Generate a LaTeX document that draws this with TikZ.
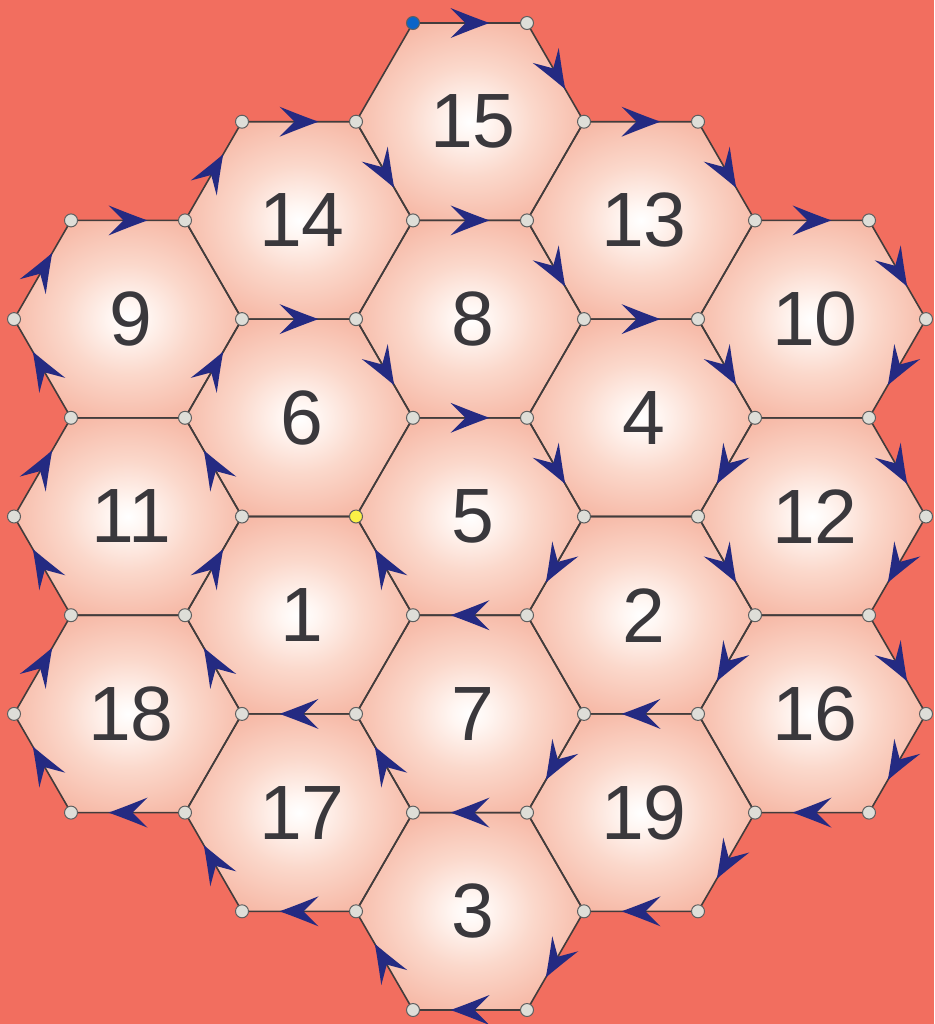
\documentclass[tikz,border=0pt]{standalone}
\usepackage{fontspec}
\setmainfont{Liberation Sans}
\usetikzlibrary{decorations.markings}

\definecolor{bg}{RGB}{242,110,95}
\definecolor{hexc1}{RGB}{255,246,242}
\definecolor{hexc2}{RGB}{251,216,203}
\definecolor{hexc3}{RGB}{246,182,163}
\definecolor{hexc4}{RGB}{241,154,135}
\definecolor{hexc5}{RGB}{239,143,125}
\definecolor{linecol}{RGB}{66,60,60}
\definecolor{arrowcol}{RGB}{36,42,130}
\definecolor{numcol}{RGB}{58,56,60}
\definecolor{dotfill}{RGB}{222,222,216}
\definecolor{dotline}{RGB}{95,95,95}
\definecolor{startcol}{RGB}{10,100,200}
\definecolor{endcol}{RGB}{250,240,70}

\pgfdeclareradialshading{hexglow}{\pgfpoint{0bp}{0bp}}{color(0bp)=(white); color(4bp)=(hexc1); color(14bp)=(hexc2); color(28bp)=(hexc3); color(42bp)=(hexc4); color(50bp)=(hexc5)}

\tikzset{
  hexline/.style={draw=linecol, line width=0.8pt},
  num/.style={text=numcol, font=\fontsize{38.5}{40}\selectfont, inner sep=0pt},
  vdot/.style={circle, draw=dotline, fill=dotfill, line width=0.5pt, minimum size=6.5pt, inner sep=0pt},
  flow/.style={postaction={decorate}, decoration={markings, mark=at position 0.5 with {
    \fill[arrowcol] (9.75pt,0) .. controls (3pt,-2.4pt) and (-3.5pt,-5pt) .. (-9.75pt,-7.5pt)
      .. controls (-6pt,-3.5pt) .. (-2.25pt,0)
      .. controls (-6pt,3.5pt) .. (-9.75pt,7.5pt)
      .. controls (-3.5pt,5pt) and (3pt,2.4pt) .. (9.75pt,0) -- cycle;}}}
}

\begin{document}
\begin{tikzpicture}[x=0.5pt,y=-0.5pt]
\useasboundingbox (0,0) rectangle (934,1024);
\fill[bg] (0,0) rectangle (934,1024);

% vertex coordinates
\foreach \i/\x in {0/14,1/71,2/185,3/242,4/356,5/413,6/527,7/584,8/698,9/755,10/869,11/926}{
  \foreach \j in {0,...,10}{
    \coordinate (v\i-\j) at (\x,{23+98.7*\j});
  }
}

% hexagon fills and numbers
\foreach \n/\c/\j in {15/2/1,14/1/2,13/3/2,9/0/3,8/2/3,10/4/3,6/1/4,4/3/4,11/0/5,5/2/5,12/4/5,1/1/6,2/3/6,18/0/7,7/2/7,16/4/7,17/1/8,19/3/8,3/2/9}{
  \pgfmathtruncatemacro\va{2*\c}
  \pgfmathtruncatemacro\vb{2*\c+1}
  \pgfmathtruncatemacro\vc{2*\c+2}
  \pgfmathtruncatemacro\vd{2*\c+3}
  \pgfmathtruncatemacro\rt{\j-1}
  \pgfmathtruncatemacro\rb{\j+1}
  \path[shading=hexglow] (v\va-\j) -- (v\vb-\rt) -- (v\vc-\rt) -- (v\vd-\j) -- (v\vc-\rb) -- (v\vb-\rb) -- cycle;
  \node[num] (h\n) at ({128+171*\c+3},{23+98.7*\j}) {\n};
}

% hexagon outlines
\foreach \c/\j in {2/1,1/2,3/2,0/3,2/3,4/3,1/4,3/4,0/5,2/5,4/5,1/6,3/6,0/7,2/7,4/7,1/8,3/8,2/9}{
  \pgfmathtruncatemacro\va{2*\c}
  \pgfmathtruncatemacro\vb{2*\c+1}
  \pgfmathtruncatemacro\vc{2*\c+2}
  \pgfmathtruncatemacro\vd{2*\c+3}
  \pgfmathtruncatemacro\rt{\j-1}
  \pgfmathtruncatemacro\rb{\j+1}
  \draw[hexline] (v\va-\j) -- (v\vb-\rt) -- (v\vc-\rt) -- (v\vd-\j) -- (v\vc-\rb) -- (v\vb-\rb) -- cycle;
}

% the path with arrows
\foreach \a/\b in {5-0/6-0,6-0/7-1,7-1/8-1,8-1/9-2,9-2/10-2,10-2/11-3,11-3/10-4,10-4/11-5,11-5/10-6,10-6/11-7,11-7/10-8,10-8/9-8,9-8/8-9,8-9/7-9,7-9/6-10,6-10/5-10,5-10/4-9,4-9/3-9,3-9/2-8,2-8/1-8,1-8/0-7,0-7/1-6,1-6/0-5,0-5/1-4,1-4/0-3,0-3/1-2,1-2/2-2,2-2/3-1,3-1/4-1,4-1/5-2,5-2/6-2,6-2/7-3,7-3/8-3,8-3/9-4,9-4/8-5,8-5/9-6,9-6/8-7,8-7/7-7,7-7/6-8,6-8/5-8,5-8/4-7,4-7/3-7,3-7/2-6,2-6/3-5,3-5/2-4,2-4/3-3,3-3/4-3,4-3/5-4,5-4/6-4,6-4/7-5,7-5/6-6,6-6/5-6,5-6/4-5}{
  \path[flow] (v\a) -- (v\b);
}

% vertex dots
\foreach \i/\js in {0/{3,5,7},1/{2,4,6,8},2/{2,4,6,8},3/{1,3,5,7,9},4/{1,3,7,9},5/{2,4,6,8,10},6/{0,2,4,6,8,10},7/{1,3,5,7,9},8/{1,3,5,7,9},9/{2,4,6,8},10/{2,4,6,8},11/{3,5,7}}{
  \foreach \j in \js{
    \node[vdot] (d\i-\j) at (v\i-\j) {};
  }
}
\node[vdot, fill=startcol] (start) at (v5-0) {};
\node[vdot, fill=endcol] (finish) at (v4-5) {};
\end{tikzpicture}
\end{document}
